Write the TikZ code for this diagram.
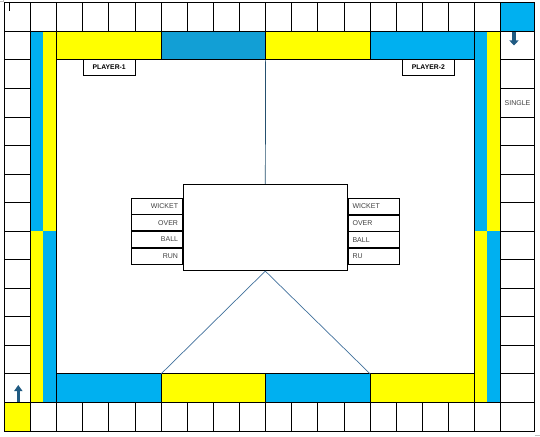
\documentclass[tikz,border=0pt]{standalone}
\usepackage{fontspec}
\setmainfont{Liberation Sans}
\usetikzlibrary{arrows.meta, positioning}
\definecolor{BoardYellow}{RGB}{255,255,0}
\definecolor{BoardBlue}{RGB}{0,176,240}
\definecolor{BoardDeepBlue}{RGB}{18,159,213}
\definecolor{ArrowBlue}{RGB}{31,90,130}
\definecolor{LineBlue}{RGB}{65,113,156}
\definecolor{StemBlue}{RGB}{37,80,110}
\definecolor{LabelGray}{RGB}{64,64,64}

\begin{document}
\begin{tikzpicture}[x=1pt, y=-1pt, font=\fontsize{7}{8}\selectfont,
  cellline/.style={draw=black, line width=0.8pt},
  scorecell/.style={draw=black, line width=0.7pt, minimum height=16pt, inner ysep=0pt,
    inner xsep=4.5pt, text width=42pt, text=LabelGray},
  playertag/.style={draw=black, line width=0.8pt, minimum width=52pt, minimum height=16pt,
    inner sep=0pt, font=\fontsize{6.8}{8}\selectfont\bfseries}]
  % Seitenrahmen
  \useasboundingbox (0,0) rectangle (540,436);
  \fill[white] (0,0) rectangle (540,436);
  \draw[gray!50, line width=0.6pt] (0,1.6) -- (3.3,1.6) -- (3.3,0);
  \draw[gray!50, line width=0.8pt] (535.6,436) -- (535.6,435.2) -- (540,435.2);
  \draw[line width=0.6pt] (9.7,2.7) -- (9.7,11);

  % obere und untere Feldreihe
  \foreach \i in {0,...,18}{
    \draw[cellline] ({4.3+\i*26.13},2.7) rectangle ({4.3+(\i+1)*26.13},31.25);
  }
  \draw[cellline, fill=BoardBlue] (500.77,2.7) rectangle (534.3,31.25);
  \draw[cellline, fill=BoardYellow] (4.3,402.4) rectangle (30.43,430.95);
  \foreach \i in {1,...,18}{
    \draw[cellline] ({4.3+\i*26.13},402.4) rectangle ({4.3+(\i+1)*26.13},430.95);
  }
  \draw[cellline] (500.77,402.4) rectangle (534.3,430.95);

  % linke und rechte Feldspalte
  \foreach \j in {1,...,13}{
    \draw[cellline] (4.3,{2.7+\j*28.55}) rectangle (30.43,{2.7+(\j+1)*28.55});
    \draw[cellline] (500.77,{2.7+\j*28.55}) rectangle (534.3,{2.7+(\j+1)*28.55});
  }

  % linke Streifen
  \fill[BoardBlue] (30.43,31.25) rectangle (43.4,231.1);
  \fill[BoardYellow] (43.4,31.25) rectangle (56.56,231.1);
  \fill[BoardYellow] (30.43,231.1) rectangle (43.4,402.4);
  \fill[BoardBlue] (43.4,231.1) rectangle (56.56,402.4);
  \draw[cellline] (30.43,31.25) rectangle (56.56,402.4);

  % rechte Streifen
  \fill[BoardBlue] (474.64,31.25) rectangle (487.4,231.1);
  \fill[BoardYellow] (487.4,31.25) rectangle (500.77,231.1);
  \fill[BoardYellow] (474.64,231.1) rectangle (487.4,402.4);
  \fill[BoardBlue] (487.4,231.1) rectangle (500.77,402.4);
  \draw[cellline] (474.64,31.25) rectangle (500.77,402.4);

  % obere und untere Balken
  \foreach \i/\c in {2/BoardYellow,6/BoardDeepBlue,10/BoardYellow,14/BoardBlue}{
    \draw[cellline, fill=\c] ({4.3+\i*26.13},31.25) rectangle ({4.3+(\i+4)*26.13},59.8);
  }
  \foreach \i/\c in {2/BoardBlue,6/BoardYellow,10/BoardBlue,14/BoardYellow}{
    \draw[cellline, fill=\c] ({4.3+\i*26.13},373.85) rectangle ({4.3+(\i+4)*26.13},402.4);
  }

  % Pfeile
  \draw[ArrowBlue, line width=3.5pt, -{Triangle[width=9pt, length=5pt]}] (514,31.8) -- (514,45.5);
  \draw[ArrowBlue, line width=3.5pt, -{Triangle[width=8pt, length=6pt]}] (18.3,402) -- (18.3,385);

  % Spieler und Beschriftung
  \node[playertag] (player1) at (109.2,67.5) {PLAYER-1};
  \node[playertag] (player2) at (428.3,67.5) {PLAYER-2};
  \node[text=LabelGray] (single) at (517.5,102.6) {SINGLE};

  % Anzeigetafel
  \node[draw, line width=0.8pt, minimum width=164pt, minimum height=86.4pt, inner sep=0pt]
    (score) at (265.3,227.5) {};
  \coordinate (stem) at (265.6,59.8);
  \coordinate (tri-left) at (161.08,373.85);
  \coordinate (tri-right) at (370.12,373.85);
  \draw[StemBlue, line width=0.7pt] (stem) -- (score.north);
  \draw[LineBlue, line width=0.7pt] (tri-left) -- (score.south) -- (tri-right);

  % Tabelle links
  \node[scorecell, align=right, anchor=north east] (lwicket) at ([yshift=-13.7pt]score.north west) {WICKET};
  \node[scorecell, align=right, below=0pt of lwicket] (lover) {OVER};
  \node[scorecell, align=right, below=0pt of lover] (lball) {BALL};
  \node[scorecell, align=right, below=0pt of lball] (lrun) {RUN};
  \draw[line width=1.3pt] (lwicket.south west) -- (lwicket.south east);

  % Tabelle rechts
  \node[scorecell, align=left, anchor=north west] (rwicket) at ([yshift=-14pt]score.north east) {WICKET};
  \node[scorecell, align=left, below=0pt of rwicket] (rover) {OVER};
  \node[scorecell, align=left, below=0pt of rover] (rball) {BALL};
  \node[scorecell, align=left, below=0pt of rball] (rru) {RU};
\end{tikzpicture}
\end{document}
